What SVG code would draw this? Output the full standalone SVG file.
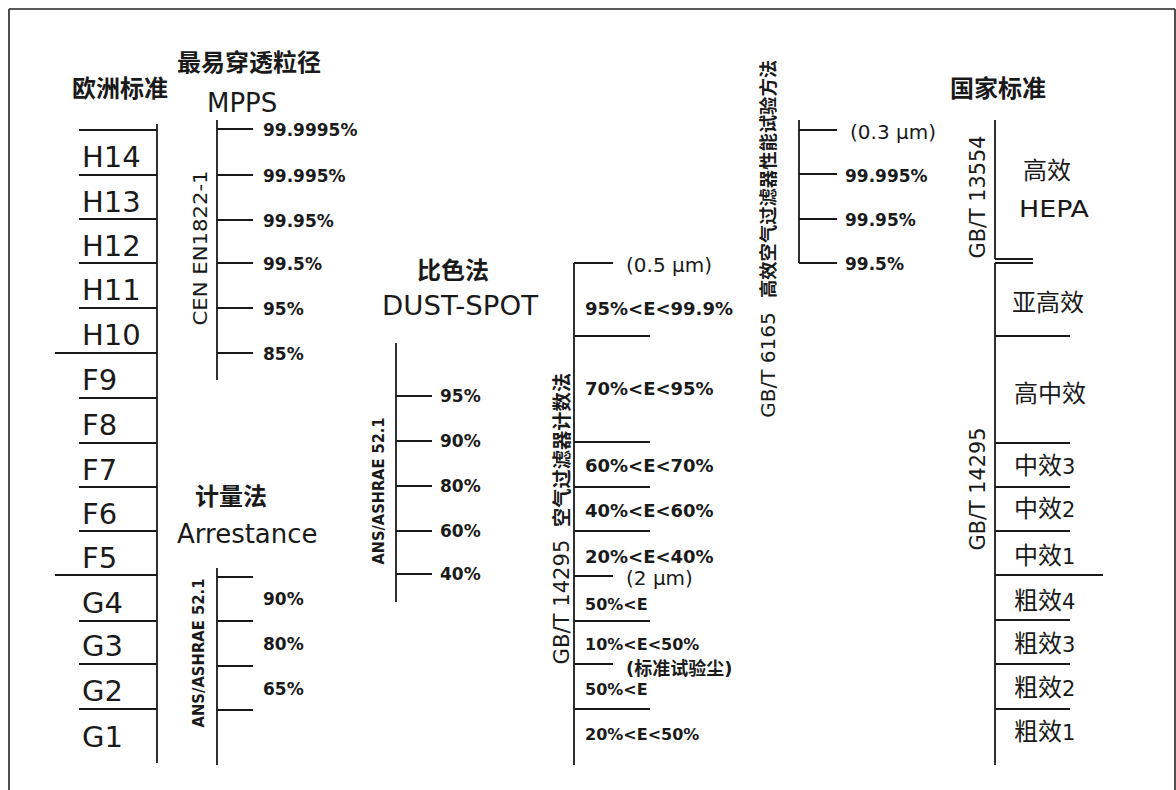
<svg xmlns="http://www.w3.org/2000/svg" width="1176" height="790" viewBox="0 0 1176 790">
<style>
  .ln{stroke:#1a1a1a;stroke-width:1.8;fill:none}
  .frame{stroke:#222;stroke-width:1.6;fill:none}
  .lat{font-family:"DejaVu Sans","Liberation Sans",sans-serif;fill:#1a1a1a}
  .cls{font-family:"DejaVu Sans","Liberation Sans",sans-serif;font-size:29px;fill:#1a1a1a}
  .pct{font-family:"DejaVu Sans","Liberation Sans",sans-serif;font-weight:bold;font-size:17px;fill:#1a1a1a}
  .pm{font-family:"DejaVu Sans","Liberation Sans",sans-serif;font-weight:bold;font-size:18px;fill:#1a1a1a}
  .ps{font-family:"DejaVu Sans","Liberation Sans",sans-serif;font-weight:bold;font-size:16px;fill:#1a1a1a}
  .um{font-family:"DejaVu Sans","Liberation Sans",sans-serif;font-size:20px;fill:#1a1a1a}
  .cjk{font-family:"Noto Sans CJK SC","Noto Sans CJK JP",sans-serif;font-size:24px;fill:#1a1a1a}
  .cjkb{font-family:"Noto Sans CJK SC","Noto Sans CJK JP",sans-serif;font-size:24px;font-weight:bold;fill:#1a1a1a}
  .rot{font-family:"DejaVu Sans","Liberation Sans",sans-serif;fill:#1a1a1a;text-anchor:middle}
  .rotc{font-family:"Noto Sans CJK SC","Noto Sans CJK JP",sans-serif;font-weight:bold;fill:#1a1a1a;text-anchor:middle}
</style>
<rect width="1176" height="790" fill="#fff"/>
<g id="frame">
  <line class="frame" x1="9" y1="9" x2="9" y2="790"/>
  <line class="frame" x1="9" y1="9" x2="1175" y2="9"/>
  <line class="frame" x1="1175" y1="9" x2="1175" y2="790"/>
</g>

<g id="connectors">
  <!-- European classes -->
  <line class="ln" x1="157" y1="124" x2="157" y2="763"/>
  <line class="ln" x1="79" y1="130" x2="157" y2="130"/>
  <line class="ln" x1="79" y1="175" x2="157" y2="175"/>
  <line class="ln" x1="79" y1="219" x2="157" y2="219"/>
  <line class="ln" x1="79" y1="263" x2="157" y2="263"/>
  <line class="ln" x1="79" y1="308" x2="157" y2="308"/>
  <line class="ln" x1="55" y1="353" x2="157" y2="353"/>
  <line class="ln" x1="79" y1="398" x2="157" y2="398"/>
  <line class="ln" x1="79" y1="443" x2="157" y2="443"/>
  <line class="ln" x1="79" y1="487" x2="157" y2="487"/>
  <line class="ln" x1="79" y1="531" x2="157" y2="531"/>
  <line class="ln" x1="55" y1="575" x2="157" y2="575"/>
  <line class="ln" x1="79" y1="621" x2="157" y2="621"/>
  <line class="ln" x1="79" y1="664" x2="157" y2="664"/>
  <line class="ln" x1="79" y1="709" x2="157" y2="709"/>
  <!-- MPPS -->
  <line class="ln" x1="217" y1="120" x2="217" y2="380"/>
  <line class="ln" x1="217" y1="129" x2="253" y2="129"/>
  <line class="ln" x1="217" y1="175" x2="253" y2="175"/>
  <line class="ln" x1="217" y1="220" x2="253" y2="220"/>
  <line class="ln" x1="217" y1="263" x2="253" y2="263"/>
  <line class="ln" x1="217" y1="308" x2="253" y2="308"/>
  <line class="ln" x1="217" y1="353" x2="253" y2="353"/>
  <!-- Arrestance -->
  <line class="ln" x1="217" y1="568" x2="217" y2="765"/>
  <line class="ln" x1="217" y1="577" x2="253" y2="577"/>
  <line class="ln" x1="217" y1="621" x2="253" y2="621"/>
  <line class="ln" x1="217" y1="666" x2="253" y2="666"/>
  <line class="ln" x1="217" y1="710" x2="253" y2="710"/>
  <!-- Dust-spot -->
  <line class="ln" x1="396" y1="343" x2="396" y2="602"/>
  <line class="ln" x1="396" y1="396" x2="432" y2="396"/>
  <line class="ln" x1="396" y1="441" x2="432" y2="441"/>
  <line class="ln" x1="396" y1="486" x2="432" y2="486"/>
  <line class="ln" x1="396" y1="531" x2="432" y2="531"/>
  <line class="ln" x1="396" y1="574" x2="432" y2="574"/>
  <!-- GB/T 14295 counting -->
  <line class="ln" x1="574" y1="263" x2="574" y2="765"/>
  <line class="ln" x1="574" y1="263" x2="613" y2="263"/>
  <line class="ln" x1="574" y1="336" x2="650" y2="336"/>
  <line class="ln" x1="574" y1="442" x2="650" y2="442"/>
  <line class="ln" x1="574" y1="487" x2="650" y2="487"/>
  <line class="ln" x1="574" y1="531" x2="650" y2="531"/>
  <line class="ln" x1="574" y1="576" x2="613" y2="576"/>
  <line class="ln" x1="574" y1="621" x2="650" y2="621"/>
  <line class="ln" x1="574" y1="664" x2="613" y2="664"/>
  <line class="ln" x1="574" y1="709" x2="650" y2="709"/>
  <!-- GB/T 6165 -->
  <line class="ln" x1="799" y1="120" x2="799" y2="263"/>
  <line class="ln" x1="799" y1="130" x2="837" y2="130"/>
  <line class="ln" x1="799" y1="174" x2="837" y2="174"/>
  <line class="ln" x1="799" y1="219" x2="837" y2="219"/>
  <line class="ln" x1="799" y1="263" x2="837" y2="263"/>
  <!-- National standard -->
  <line class="ln" x1="995" y1="120" x2="995" y2="259"/>
  <line class="ln" x1="995" y1="259" x2="1033" y2="259"/>
  <line class="ln" x1="995" y1="263" x2="1033" y2="263"/>
  <line class="ln" x1="995" y1="263" x2="995" y2="765"/>
  <line class="ln" x1="995" y1="336" x2="1070" y2="336"/>
  <line class="ln" x1="995" y1="443" x2="1070" y2="443"/>
  <line class="ln" x1="995" y1="487" x2="1070" y2="487"/>
  <line class="ln" x1="995" y1="531" x2="1070" y2="531"/>
  <line class="ln" x1="995" y1="575" x2="1103" y2="575"/>
  <line class="ln" x1="995" y1="620" x2="1070" y2="620"/>
  <line class="ln" x1="995" y1="664" x2="1070" y2="664"/>
  <line class="ln" x1="995" y1="709" x2="1070" y2="709"/>
</g>

<g id="euro-standard">
  <text class="cjkb" x="72" y="97">欧洲标准</text>
  <text class="cls" x="82" y="167">H14</text>
  <text class="cls" x="82" y="212">H13</text>
  <text class="cls" x="82" y="256">H12</text>
  <text class="cls" x="82" y="300">H11</text>
  <text class="cls" x="82" y="345">H10</text>
  <text class="cls" x="82" y="390">F9</text>
  <text class="cls" x="82" y="435">F8</text>
  <text class="cls" x="82" y="480">F7</text>
  <text class="cls" x="82" y="524">F6</text>
  <text class="cls" x="82" y="568">F5</text>
  <text class="cls" x="82" y="613">G4</text>
  <text class="cls" x="82" y="656">G3</text>
  <text class="cls" x="82" y="701">G2</text>
  <text class="cls" x="82" y="747">G1</text>
</g>

<g id="mpps">
  <text class="cjkb" x="177" y="71">最易穿透粒径</text>
  <text class="lat" x="207" y="112" font-size="26">MPPS</text>
  <text class="rot" font-size="20" transform="translate(207,248) rotate(-90)" textLength="155" lengthAdjust="spacingAndGlyphs">CEN  EN1822-1</text>
  <text class="pct" x="263" y="136">99.9995%</text>
  <text class="pct" x="263" y="182">99.995%</text>
  <text class="pct" x="263" y="227">99.95%</text>
  <text class="pct" x="263" y="270">99.5%</text>
  <text class="pct" x="263" y="315">95%</text>
  <text class="pct" x="263" y="360">85%</text>
</g>

<g id="arrestance">
  <text class="cjkb" x="195" y="505">计量法</text>
  <text class="lat" x="177" y="543" font-size="26">Arrestance</text>
  <text class="rot" font-size="15" font-weight="bold" transform="translate(204,653) rotate(-90)" textLength="149" lengthAdjust="spacingAndGlyphs">ANS/ASHRAE 52.1</text>
  <text class="pct" x="263" y="605">90%</text>
  <text class="pct" x="263" y="650">80%</text>
  <text class="pct" x="263" y="695">65%</text>
</g>

<g id="dust-spot">
  <text class="cjkb" x="417" y="279">比色法</text>
  <text class="lat" x="382" y="315" font-size="26" textLength="156" lengthAdjust="spacingAndGlyphs">DUST-SPOT</text>
  <text class="rot" font-size="15" font-weight="bold" transform="translate(384,491) rotate(-90)" textLength="147" lengthAdjust="spacingAndGlyphs">ANS/ASHRAE 52.1</text>
  <text class="pct" x="440" y="402">95%</text>
  <text class="pct" x="440" y="447">90%</text>
  <text class="pct" x="440" y="492">80%</text>
  <text class="pct" x="440" y="537">60%</text>
  <text class="pct" x="440" y="580">40%</text>
</g>

<g id="gbt14295-count">
  <text class="rot" font-size="21" transform="translate(569,602) rotate(-90)" textLength="125" lengthAdjust="spacingAndGlyphs">GB/T 14295</text>
  <text class="rotc" font-size="19" transform="translate(569,450) rotate(-90)" textLength="154" lengthAdjust="spacingAndGlyphs">空气过滤器计数法</text>
  <text class="um" x="626" y="272">(0.5 μm)</text>
  <text class="pm" x="585" y="315">95%&lt;E&lt;99.9%</text>
  <text class="pm" x="585" y="395">70%&lt;E&lt;95%</text>
  <text class="pm" x="585" y="472">60%&lt;E&lt;70%</text>
  <text class="pm" x="585" y="517">40%&lt;E&lt;60%</text>
  <text class="pm" x="585" y="563">20%&lt;E&lt;40%</text>
  <text class="um" x="626" y="585">(2 μm)</text>
  <text class="ps" x="585" y="610">50%&lt;E</text>
  <text class="ps" x="585" y="650">10%&lt;E&lt;50%</text>
  <text class="lat" x="626" y="675" font-size="18" font-weight="bold">(<tspan font-family="Noto Sans CJK SC, sans-serif">标准试验尘</tspan>)</text>
  <text class="ps" x="585" y="695">50%&lt;E</text>
  <text class="ps" x="585" y="740">20%&lt;E&lt;50%</text>
</g>

<g id="gbt6165">
  <text class="rot" font-size="20" transform="translate(775,365) rotate(-90)">GB/T 6165</text>
  <text class="rotc" font-size="18" transform="translate(775,179) rotate(-90)" textLength="238" lengthAdjust="spacingAndGlyphs">高效空气过滤器性能试验方法</text>
  <text class="um" x="850" y="139">(0.3 μm)</text>
  <text class="pct" x="845" y="182">99.995%</text>
  <text class="pct" x="845" y="226">99.95%</text>
  <text class="pct" x="845" y="270">99.5%</text>
</g>

<g id="national-standard">
  <text class="cjkb" x="950" y="97">国家标准</text>
  <text class="rot" font-size="21" transform="translate(985,197) rotate(-90)" textLength="123" lengthAdjust="spacingAndGlyphs">GB/T 13554</text>
  <text class="rot" font-size="21" transform="translate(985,489) rotate(-90)" textLength="123" lengthAdjust="spacingAndGlyphs">GB/T 14295</text>
  <text class="cjk" x="1023" y="179">高效</text>
  <text class="lat" x="1019" y="217" font-size="23" textLength="70" lengthAdjust="spacingAndGlyphs">HEPA</text>
  <text class="cjk" x="1012" y="311">亚高效</text>
  <text class="cjk" x="1014" y="402">高中效</text>
  <text class="cjk" x="1014" y="474">中效<tspan class="lat" font-size="21">3</tspan></text>
  <text class="cjk" x="1014" y="517">中效<tspan class="lat" font-size="21">2</tspan></text>
  <text class="cjk" x="1014" y="564">中效<tspan class="lat" font-size="21">1</tspan></text>
  <text class="cjk" x="1014" y="609">粗效<tspan class="lat" font-size="21">4</tspan></text>
  <text class="cjk" x="1014" y="652">粗效<tspan class="lat" font-size="21">3</tspan></text>
  <text class="cjk" x="1014" y="696">粗效<tspan class="lat" font-size="21">2</tspan></text>
  <text class="cjk" x="1014" y="740">粗效<tspan class="lat" font-size="21">1</tspan></text>
</g>
</svg>
